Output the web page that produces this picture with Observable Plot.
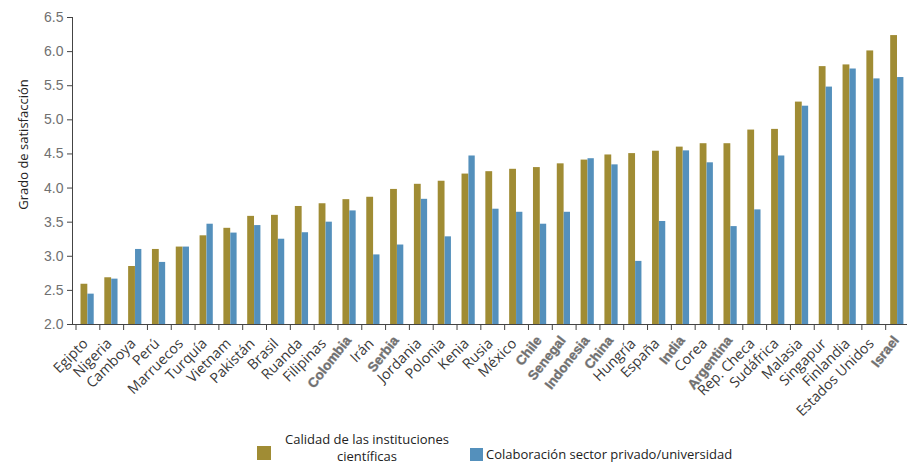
<!DOCTYPE html>
<html><head><meta charset="utf-8">
<script src="https://cdn.jsdelivr.net/npm/d3@7"></script>
<script src="https://cdn.jsdelivr.net/npm/@observablehq/plot@0.6"></script>
<style>
body{margin:0;background:#fff;}
#wrap{position:relative;width:907px;height:464px;overflow:hidden;background:#fff;}
#chart{position:absolute;left:0;top:0;}
.sw{position:absolute;width:14px;height:14px;}
.lt{position:absolute;font-family:"Open Sans",sans-serif;font-size:13px;color:#222;line-height:17px;white-space:nowrap;}
</style></head>
<body><div id="wrap"><div id="chart"></div>
<div class="sw" id="sw0" style="left:257px;top:446px;"></div>
<div class="lt" id="lt0" style="left:272px;top:431px;width:190px;text-align:center;"></div>
<div class="sw" id="sw1" style="left:470px;top:448px;width:13px;height:13px;"></div>
<div class="lt" id="lt1" style="left:486px;top:446px;"></div>
</div>
<script>
const countries = ["Egipto","Nigeria","Camboya","Perú","Marruecos","Turquía","Vietnam","Pakistán","Brasil","Ruanda","Filipinas","Colombia","Irán","Serbia","Jordania","Polonia","Kenia","Rusia","México","Chile","Senegal","Indonesia","China","Hungría","España","India","Corea","Argentina","Rep. Checa","Sudáfrica","Malasia","Singapur","Finlandia","Estados Unidos","Israel"];
const calidad = [2.59,2.685,2.85,3.10,3.135,3.30,3.41,3.585,3.60,3.73,3.77,3.83,3.865,3.98,4.055,4.10,4.205,4.24,4.275,4.30,4.355,4.41,4.485,4.505,4.54,4.60,4.65,4.65,4.85,4.86,5.26,5.78,5.805,6.01,6.235];
const colaboracion = [2.445,2.665,3.10,2.91,3.135,3.47,3.34,3.45,3.25,3.345,3.50,3.665,3.02,3.165,3.835,3.285,4.47,3.69,3.645,3.47,3.645,4.43,4.34,2.925,3.51,4.545,4.37,3.435,3.68,4.47,5.20,5.48,5.745,5.60,5.62];
const highlighted = ["Colombia","Serbia","Chile","Senegal","Indonesia","China","India","Argentina","Israel"];
const yTicks = [2.0,2.5,3.0,3.5,4.0,4.5,5.0,5.5,6.0,6.5];
const seriesNames = ["Calidad de las instituciones<br>científicas","Colaboración sector privado/universidad"];
const seriesColors = ["#A08C34","#5490BC"];
const yLabel = "Grado de satisfacción";

const rows = countries.map((c,i)=>({country:c, calidad:calidad[i], colab:colaboracion[i], hl: highlighted.includes(c)}));
const xRange = [75.5, 909];
const step = (xRange[1]-xRange[0])/countries.length;

const chart = Plot.plot({
  width: 907, height: 425,
  marginLeft: 72, marginRight: 0, marginTop: 17, marginBottom: 101,
  style: {fontFamily: "Liberation Sans, Arial, sans-serif", background: "#fff"},
  x: {domain: countries, range: xRange, padding: 0, round: false, axis: null},
  y: {domain: [yTicks[0], yTicks[yTicks.length-1]], axis: null},
  marks: [
    Plot.barY(rows, {x:"country", y1: yTicks[0], y2:"calidad", fill: seriesColors[0], insetLeft: 5, insetRight: 12}),
    Plot.barY(rows, {x:"country", y1: yTicks[0], y2:"colab", fill: seriesColors[1], insetLeft: 11.9, insetRight: 5.6}),
    Plot.frame({anchor:"left", stroke:"#444"}),
    Plot.ruleY([yTicks[0]], {stroke:"#444"}),
    Plot.axisY({ticks: yTicks, tickFormat: d3.format(".1f"), tickSize: 5, tickPadding: 4, fontSize: 14, fill: "#707070", stroke: "#444", label: null}),
    Plot.axisX({ticks: countries, tickSize: 6, tickFormat: () => "", dx: -step/2, stroke: "#444", label: null}),
    Plot.text(rows.filter(d=>!d.hl), {x:"country", text:"country", frameAnchor:"bottom", rotate:-45, textAnchor:"end", dy:20, dx:1, fontSize:14.3, fontFamily:"Open Sans", fill:"#3a3a3a"}),
    Plot.text(rows.filter(d=>d.hl), {x:"country", text:"country", frameAnchor:"bottom", rotate:-52, textAnchor:"end", dy:16, dx:2, fontSize:13.5, fontWeight:"bold", fontFamily:"Liberation Sans", fill:"#707070", stroke:"#b0b0b0", strokeWidth:0.6}),
    Plot.text([yLabel], {frameAnchor:"top-left", rotate:-90, textAnchor:"middle", dx:-54, dy:127, fontSize:13, fontFamily:"Open Sans", fill:"#222"})
  ]
});
document.getElementById("chart").appendChild(chart);
document.getElementById("sw0").style.background = seriesColors[0];
document.getElementById("sw1").style.background = seriesColors[1];
document.getElementById("lt0").innerHTML = seriesNames[0];
document.getElementById("lt1").innerHTML = seriesNames[1];
</script>
</body></html>
